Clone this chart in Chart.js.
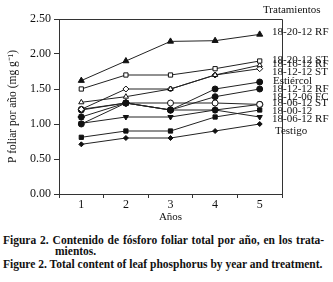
<!DOCTYPE html>
<html>
<head>
<meta charset="utf-8">
<script src="https://cdn.jsdelivr.net/npm/chart.js@4.4.0/dist/chart.umd.min.js"></script>
<style>
  body { margin: 0; background: #fff; width: 333px; height: 282px; overflow: hidden; position: relative; font-family: "Liberation Serif", serif; }
  #wrap { position: absolute; left: 0; top: 0; width: 333px; height: 228px; }
  .cap { position: absolute; font-weight: bold; font-size: 11.5px; line-height: 12px; color: #111; white-space: nowrap; }
</style>
</head>
<body>
<div id="wrap"><canvas id="chart"></canvas></div>
<div class="cap" style="left:3px;top:234px;word-spacing:1px">Figura 2. Contenido de fósforo foliar total por año, en los trata-</div>
<div class="cap" style="left:55px;top:245px">mientos.</div>
<div class="cap" style="left:3px;top:258px">Figure 2. Total content of leaf phosphorus by year and treatment.</div>
<script>
const years = ['1', '2', '3', '4', '5'];
const yTicks = [0, 0.5, 1, 1.5, 2, 2.5];

// P foliar (mg g-1) per treatment
const rf182012 = [1.62, 1.90, 2.18, 2.19, 2.28];
const st182012 = [1.50, 1.70, 1.70, 1.79, 1.90];
const rf181612 = [1.31, 1.39, 1.50, 1.70, 1.84];
const st181212 = [1.21, 1.50, 1.50, 1.70, 1.79];
const estiercol = [1.00, 1.30, 1.20, 1.50, 1.60];
const rf181212 = [1.20, 1.30, 1.20, 1.39, 1.50];
const fc181206 = [1.21, 1.30, 1.30, 1.30, 1.28];
const st180612 = [1.10, 1.30, 1.20, 1.20, 1.28];
const t180012 = [0.81, 0.90, 0.90, 1.10, 1.20];
const rf180612 = [1.01, 1.10, 1.10, 1.20, 1.10];
const testigo = [0.71, 0.80, 0.80, 0.90, 1.00];

// right-hand treatment labels and the y value they sit at
const labelNames = ['18-20-12 RF', '18-20-12 ST', '18-16-12 RF', '18-12-12 ST', 'Estiércol',
  '18-12-12 RF', '18-12-06 FC', '18-06-12 ST', '18-00-12', '18-06-12 RF', 'Testigo'];
const labelAt = [2.31, 1.91, 1.86, 1.74, 1.61, 1.50, 1.39, 1.30, 1.19, 1.07, 0.90];

const serif = '"Liberation Serif", "Times New Roman", serif';

function serie(data, style, filled, radius, extra) {
  return Object.assign({
    data: data,
    borderColor: '#222',
    borderWidth: 1,
    pointStyle: style,
    pointRadius: radius,
    pointBorderColor: '#111',
    pointBorderWidth: 1,
    pointBackgroundColor: filled ? '#111' : '#fff',
    tension: 0,
  }, extra || {});
}

const frameAndLabels = {
  id: 'frameAndLabels',
  afterDraw(chart) {
    const { ctx, chartArea: a, scales: { y } } = chart;
    ctx.save();
    ctx.strokeStyle = '#333';
    ctx.lineWidth = 1;
    ctx.beginPath();
    ctx.moveTo(a.left, a.top + 0.5);
    ctx.lineTo(a.right + 0.5, a.top + 0.5);
    ctx.lineTo(a.right + 0.5, a.bottom);
    ctx.stroke();

    ctx.fillStyle = '#111';
    ctx.textBaseline = 'middle';
    ctx.font = '11px ' + serif;
    ctx.fillText('Tratamientos', 263, 10);
    labelNames.forEach((n, i) => {
      let x = 272;
      if (n == 'Estiércol') x = 273;
      if (n == 'Testigo') x = 275;
      ctx.fillText(n, x, y.getPixelForValue(labelAt[i]));
    });
    ctx.restore();
  }
};

const ctx = document.getElementById('chart').getContext('2d');
new Chart(ctx, {
  type: 'line',
  data: {
    labels: years,
    datasets: [
      serie(rf182012, 'triangle', true, 3.5),
      serie(st182012, 'rect', false, 3),
      serie(rf181612, 'triangle', false, 3),
      serie(st181212, 'rectRot', false, 3),
      serie(estiercol, 'circle', true, 3),
      serie(rf181212, 'circle', true, 3),
      serie(fc181206, 'circle', false, 3),
      serie(st180612, 'star', true, 3.5, { pointBorderWidth: 2 }),
      serie(t180012, 'rect', true, 3),
      serie(rf180612, 'triangle', true, 3, { pointRotation: 180 }),
      serie(testigo, 'rectRot', true, 2.5),
    ],
  },
  options: {
    responsive: true,
    maintainAspectRatio: false,
    animation: false,
    layout: { padding: { left: 0, top: 19, right: 51, bottom: 0 } },
    plugins: { legend: { display: false }, tooltip: { enabled: false } },
    scales: {
      x: {
        type: 'category',
        offset: true,
        afterFit: (s) => { s.height = 34; },
        grid: { offset: true, drawOnChartArea: false, drawTicks: true, tickLength: 4, color: '#333' },
        border: { color: '#333', width: 1 },
        ticks: { color: '#111', padding: 0, font: { family: serif, size: 12 } },
        title: { display: true, text: 'Años', color: '#111', padding: { top: 0, bottom: 4 }, font: { family: serif, size: 11 } },
      },
      y: {
        min: 0,
        max: 2.5,
        afterFit: (s) => { s.width = 59; },
        afterBuildTicks: (s) => { s.ticks = yTicks.map((v) => ({ value: v })); },
        grid: { drawOnChartArea: false, drawTicks: true, tickLength: 5, color: '#333' },
        border: { color: '#333', width: 1 },
        ticks: { color: '#111', padding: 3, font: { family: serif, size: 12 }, callback: (v) => Number(v).toFixed(2) },
        title: { display: true, text: 'P foliar por año (mg g⁻¹)', color: '#111', padding: { top: 6, bottom: 0 }, font: { family: serif, size: 11.5 } },
      },
    },
  },
  plugins: [frameAndLabels],
});
</script>
</body>
</html>
